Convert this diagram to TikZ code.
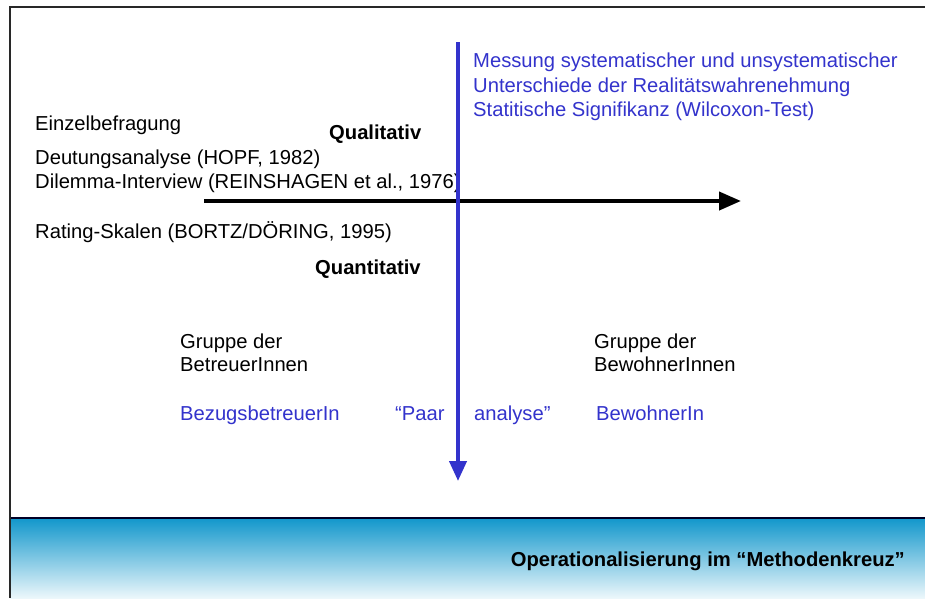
\documentclass[tikz,border=0pt]{standalone}
\usepackage{fontspec}
\setmainfont{Liberation Sans}
\usetikzlibrary{arrows.meta}
\definecolor{pptblue}{RGB}{51,51,204}
\definecolor{bantop}{RGB}{20,152,204}
\definecolor{banbot}{RGB}{236,247,251}
\definecolor{framegray}{RGB}{40,40,40}
\begin{document}
\begin{tikzpicture}[x=1pt,y=-1pt,
  txt/.style={inner sep=0pt,anchor=base west,font=\fontsize{20.2}{23}\selectfont},
  btxt/.style={txt,font=\fontsize{20.2}{23}\selectfont\bfseries},
  bluetxt/.style={txt,text=pptblue},
  axis/.style={line width=4pt},
]
\useasboundingbox (0,0) rectangle (925,598);
\fill[white] (0,0) rectangle (925,598);
% banner
\shade[top color=bantop,bottom color=banbot] (10,519) rectangle (925,598);
\draw[line width=2pt,black!85!blue] (10,518) -- (925,518);
% frame
\draw[line width=2pt,framegray] (10,598) -- (10,7) -- (925,7);
% texts
\node[bluetxt] (m1) at (473,67) {Messung systematischer und unsystematischer};
\node[bluetxt] (m2) at (473,92) {Unterschiede der Realitätswahrenehmung};
\node[bluetxt] (m3) at (473,116) {Statitische Signifikanz (Wilcoxon-Test)};
\node[txt] (e1) at (35,130) {Einzelbefragung};
\node[btxt] (ql) at (329,139) {Qualitativ};
\node[txt] (e2) at (35,164) {Deutungsanalyse (HOPF, 1982)};
\node[txt] (e3) at (35,188) {Dilemma-Interview (REINSHAGEN et al., 1976)};
\node[txt] (e4) at (35,238) {Rating-Skalen (BORTZ/DÖRING, 1995)};
\node[btxt] (qn) at (315,274) {Quantitativ};
\node[txt] (g1) at (180,348) {Gruppe der};
\node[txt] (g2) at (180,371) {BetreuerInnen};
\node[txt] (g3) at (594,348) {Gruppe der};
\node[txt] (g4) at (594,371) {BewohnerInnen};
\node[bluetxt] (b1) at (180,420) {BezugsbetreuerIn};
\node[bluetxt] (b2) at (395,420) {“Paar};
\node[bluetxt] (b3) at (474,420) {analyse”};
\node[bluetxt] (b4) at (596,420) {BewohnerIn};
\node[btxt,anchor=base east] (title) at (905,566) {Operationalisierung im “Methodenkreuz”};
% axes
\coordinate (hs) at (204,201);
\coordinate (he) at (741,201);
\coordinate (vs) at (458,42);
\coordinate (ve) at (458,481);
\draw[axis,black,-{Triangle[length=22pt,width=18pt]}] (hs) -- (he);
\draw[axis,pptblue,-{Triangle[length=20pt,width=17pt]}] (vs) -- (ve);
\end{tikzpicture}
\end{document}
